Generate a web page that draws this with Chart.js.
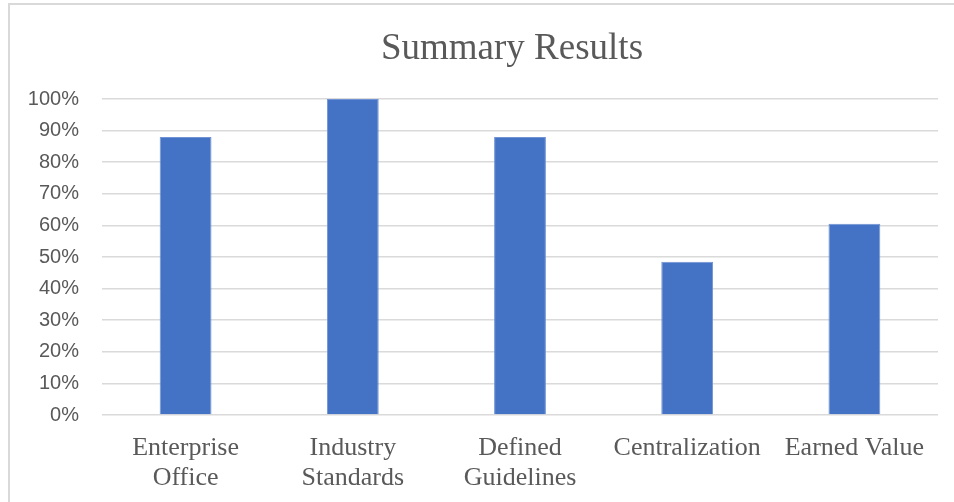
<!DOCTYPE html>
<html>
<head>
<meta charset="utf-8">
<script src="https://cdn.jsdelivr.net/npm/chart.js@4/dist/chart.umd.min.js"></script>
<style>
  html, body { margin: 0; padding: 0; background: #fff; }
  canvas { display: block; }
</style>
</head>
<body>
<canvas id="summary-chart" width="954" height="502"></canvas>
<script>
const categories = [['Enterprise', 'Office'], ['Industry', 'Standards'], ['Defined', 'Guidelines'], 'Centralization', 'Earned Value'];
const results = [0.88, 1.0, 0.88, 0.485, 0.605];
const yTicks = [0, 0.1, 0.2, 0.3, 0.4, 0.5, 0.6, 0.7, 0.8, 0.9, 1.0];
const chartTitle = 'Summary Results';

const textGrey = '#595959';

// frame + title, drawn by hand so the title sits where Excel put it
const frameAndTitle = {
  id: 'frameAndTitle',
  afterDraw(chart) {
    const ctx = chart.ctx;
    ctx.save();
    ctx.strokeStyle = '#d9d9d9';
    ctx.lineWidth = 2;
    ctx.beginPath();
    ctx.moveTo(9, 502);
    ctx.lineTo(9, 4);
    ctx.lineTo(954, 4);
    ctx.stroke();

    ctx.fillStyle = textGrey;
    ctx.font = '37px "Liberation Serif", "Times New Roman", serif';
    ctx.textAlign = 'center';
    ctx.textBaseline = 'middle';
    ctx.fillText(chartTitle, 512, 49);
    ctx.restore();
  }
};

const ctx = document.getElementById('summary-chart').getContext('2d');
new Chart(ctx, {
  type: 'bar',
  data: {
    labels: categories,
    datasets: [
      {
        label: 'Results',
        data: results,
        backgroundColor: '#4472c4',
        borderColor: '#6f93d4',
        borderWidth: 1,
        categoryPercentage: 1,
        barPercentage: 0.31,
      },
    ],
  },
  options: {
    responsive: false,
    animation: false,
    layout: {
      padding: { left: 0, top: 99, right: 16, bottom: 0 },
    },
    plugins: {
      legend: { display: false },
      title: { display: false },
      tooltip: { enabled: false },
    },
    scales: {
      x: {
        grid: { display: false, drawTicks: false },
        border: { display: false },
        ticks: {
          color: textGrey,
          padding: 18,
          maxRotation: 0,
          autoSkip: false,
          font: { family: '"Liberation Serif", "Times New Roman", serif', size: 26, lineHeight: 1.16 },
        },
        afterFit(scale) {
          scale.height = 87;
        },
      },
      y: {
        min: 0,
        max: 1,
        afterBuildTicks(scale) {
          scale.ticks = yTicks.map((v) => ({ value: v }));
        },
        grid: { color: '#dadada', lineWidth: 1.6, drawTicks: false },
        border: { display: false },
        ticks: {
          color: textGrey,
          padding: 23,
          font: { family: '"Liberation Sans", Arial, sans-serif', size: 20 },
          callback: (v) => Math.round(v * 100) + '%',
        },
        afterFit(scale) {
          scale.width = 102;
        },
      },
    },
  },
  plugins: [frameAndTitle],
});
</script>
</body>
</html>
